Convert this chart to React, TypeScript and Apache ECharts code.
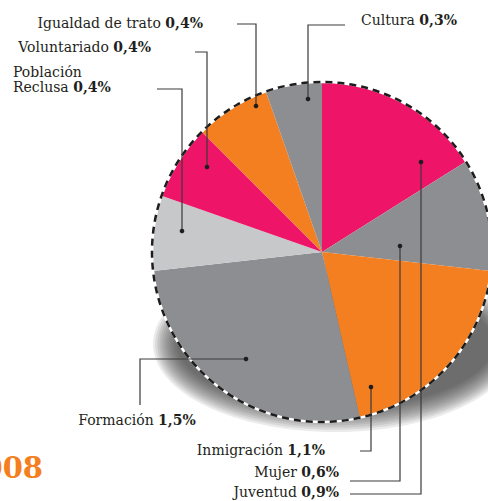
import React, { useEffect, useRef } from "react";
import * as echarts from "echarts";

const categories = ["Juventud", "Mujer", "Inmigración", "Formación", "Población Reclusa", "Voluntariado", "Igualdad de trato", "Cultura"];
const values = [0.9, 0.6, 1.1, 1.5, 0.4, 0.4, 0.4, 0.3];
const valueLabels = ["0,9%", "0,6%", "1,1%", "1,5%", "0,4%", "0,4%", "0,4%", "0,3%"];
const colors = ["#EE1467", "#8D8E91", "#F47F20", "#8D8E91", "#C7C8CA", "#EE1467", "#F47F20", "#8D8E91"];

const CX = 322;
const CY = 252;
const R = 170;
const FONT = "'DejaVu Serif', serif";
const INK = "#231F20";
const LINE = "#3a3a3a";

type Leader = { pts: number[][]; tx: number; ty: number; align: "left" | "right" | "center"; name: string };
const leaders: Leader[] = [
  { name: "Juventud", pts: [[350, 494], [421, 494], [421, 162]], tx: 339, ty: 492, align: "right" },
  { name: "Mujer", pts: [[350, 481], [400, 481], [400, 246]], tx: 339, ty: 472, align: "right" },
  { name: "Inmigración", pts: [[360, 451], [371, 451], [371, 387]], tx: 325, ty: 450, align: "right" },
  { name: "Formación", pts: [[140, 405], [140, 359], [246, 359]], tx: 137, ty: 420, align: "center" },
  { name: "Población Reclusa", pts: [[157, 89], [182, 89], [182, 231]], tx: 13, ty: 79, align: "left" },
  { name: "Voluntariado", pts: [[195, 52], [207, 52], [207, 167]], tx: 151, ty: 47, align: "right" },
  { name: "Igualdad de trato", pts: [[237, 24], [256, 24], [256, 106]], tx: 203, ty: 23, align: "right" },
  { name: "Cultura", pts: [[345, 25], [308, 25], [308, 99]], tx: 361, ty: 20, align: "left" },
];

export default function App() {
  const ref = useRef<HTMLDivElement>(null);
  useEffect(() => {
    document.body.style.margin = "0";
    const chart = echarts.init(ref.current!, undefined, { renderer: "svg" });
    const graphics: any[] = [];
    // flattened floor shadow built from stacked translucent ellipses
    for (let k = 0; k < 12; k++) {
      graphics.push({
        type: "ellipse", z: 0, silent: true,
        shape: { cx: CX + 13, cy: CY + 92, rx: 182 - k * 2.2, ry: 88 - k * 2.2 },
        style: { fill: "rgba(60,60,60,0.1)" },
      });
    }
    graphics.push(
      { type: "circle", z: 100, silent: true, shape: { cx: CX, cy: CY, r: R }, style: { fill: null, stroke: "#ffffff", lineWidth: 2.5 } },
      { type: "circle", z: 101, silent: true, shape: { cx: CX, cy: CY, r: R }, style: { fill: null, stroke: "#1d1d1d", lineWidth: 2.5, lineDash: [7, 5] } },
      {
        type: "text", z: 100, x: 43, y: 468,
        style: { text: "2008", fill: "#F47F20", font: `bold 29px ${FONT}`, textAlign: "right", textVerticalAlign: "middle" },
      }
    );
    leaders.forEach((l) => {
      const i = categories.indexOf(l.name);
      const dot = l.pts[l.pts.length - 1];
      graphics.push({ type: "polyline", z: 102, silent: true, shape: { points: l.pts }, style: { stroke: LINE, lineWidth: 1.2, fill: null } });
      graphics.push({ type: "circle", z: 103, silent: true, shape: { cx: dot[0], cy: dot[1], r: 2.3 }, style: { fill: "#1d1d1d" } });
      let text: string;
      if (l.name === "Población Reclusa") {
        text = `{n|Población}\n{n|Reclusa }{b|${valueLabels[i]}}`;
      } else {
        text = `{n|${l.name} }{b|${valueLabels[i]}}`;
      }
      graphics.push({
        type: "text", z: 104, x: l.tx, y: l.ty,
        style: {
          text,
          textAlign: l.align,
          textVerticalAlign: "middle",
          rich: {
            n: { fontFamily: FONT, fontSize: 14, fill: INK, lineHeight: 15 },
            b: { fontFamily: FONT, fontSize: 14, fontWeight: "bold", fill: INK, lineHeight: 15 },
          },
        },
      });
    });
    chart.setOption({
      animation: false,
      series: [
        {
          type: "pie",
          silent: true,
          center: [CX, CY],
          radius: R,
          z: 2,
          startAngle: 90,
          clockwise: true,
          label: { show: false },
          labelLine: { show: false },
          itemStyle: { borderWidth: 0 },
          data: categories.map((c, i) => ({ name: c, value: values[i], itemStyle: { color: colors[i] } })),
        },
      ],
      graphic: graphics,
    });
    return () => chart.dispose();
  }, []);
  return <div ref={ref} style={{ width: 488, height: 501 }} />;
}
